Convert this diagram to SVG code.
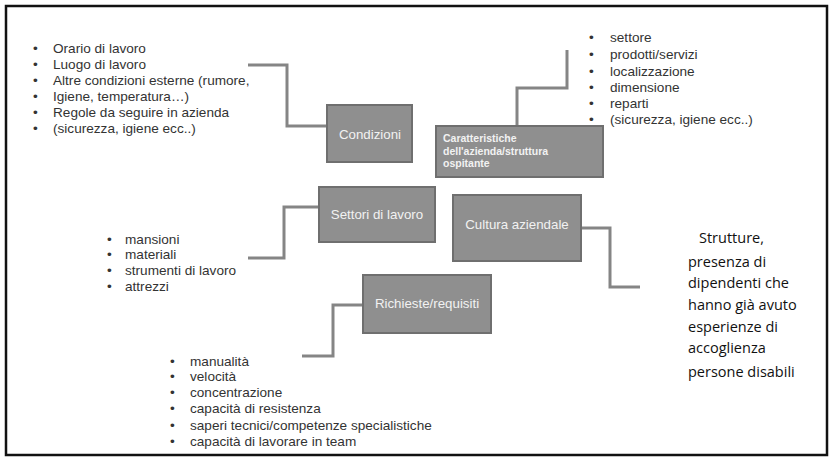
<svg xmlns="http://www.w3.org/2000/svg" width="830" height="457" viewBox="0 0 830 457">
<style>
.box{fill:#8f8f8f;stroke:#6f6f6f;stroke-width:2}
.bt{font-family:"Liberation Sans",Arial,sans-serif;font-size:13.3px;fill:#f2f2f2;text-anchor:middle}
.st{font-family:"Liberation Sans",Arial,sans-serif;font-size:10.5px;fill:#f2f2f2;font-weight:bold}
.li{font-family:"Liberation Sans",Arial,sans-serif;font-size:13.6px;fill:#333}
.rt{font-family:"Open Sans","Liberation Sans",sans-serif;font-size:14.5px;fill:#111}
.con{fill:none;stroke:#858585;stroke-width:3}
</style>
<rect x="0" y="0" width="830" height="457" fill="#fff"/>
<rect x="6" y="6" width="821" height="449" fill="none" stroke="#111" stroke-width="2.5"/>
<g id="connectors">
<polyline class="con" points="248,65 287,65 287,126 326,126"/>
<polyline class="con" points="517,126 517,88 567,88 567,50"/>
<polyline class="con" points="248,258 284,258 284,207 319,207"/>
<polyline class="con" points="581,228 610,228 610,287 640,287"/>
<polyline class="con" points="363,305 333,305 333,356 302,356"/>
</g>
<g id="condizioni">
<rect class="box" x="327" y="105" width="85" height="57"/>
<text class="bt" x="370" y="139">Condizioni</text>
</g>
<g id="caratteristiche">
<rect class="box" x="436" y="126" width="167" height="51"/>
<text class="st" x="443" y="142">Caratteristiche</text>
<text class="st" x="443" y="155">dell'azienda/struttura</text>
<text class="st" x="443" y="167">ospitante</text>
</g>
<g id="settori">
<rect class="box" x="319" y="187" width="116" height="55"/>
<text class="bt" x="377" y="219">Settori di lavoro</text>
</g>
<g id="cultura">
<rect class="box" x="453" y="195" width="128" height="66"/>
<text class="bt" x="517" y="229">Cultura aziendale</text>
</g>
<g id="richieste">
<rect class="box" x="363" y="275" width="128" height="58"/>
<text class="bt" x="427" y="308">Richieste/requisiti</text>
</g>
<g id="list-condizioni" class="li">
<text x="33" y="53">•</text><text x="53" y="53">Orario di lavoro</text>
<text x="33" y="69">•</text><text x="53" y="69">Luogo di lavoro</text>
<text x="33" y="85">•</text><text x="53" y="85">Altre condizioni esterne (rumore,</text>
<text x="33" y="101">•</text><text x="53" y="101">Igiene, temperatura…)</text>
<text x="33" y="117">•</text><text x="53" y="117">Regole da seguire in azienda</text>
<text x="33" y="133">•</text><text x="53" y="133">(sicurezza, igiene ecc..)</text>
</g>
<g id="list-caratteristiche" class="li">
<text x="589" y="42">•</text><text x="610" y="42">settore</text>
<text x="589" y="59">•</text><text x="610" y="59">prodotti/servizi</text>
<text x="589" y="76">•</text><text x="610" y="76">localizzazione</text>
<text x="589" y="92">•</text><text x="610" y="92">dimensione</text>
<text x="589" y="108">•</text><text x="610" y="108">reparti</text>
<text x="589" y="124">•</text><text x="610" y="124">(sicurezza, igiene ecc..)</text>
</g>
<g id="list-settori" class="li">
<text x="107" y="244">•</text><text x="125" y="244">mansioni</text>
<text x="107" y="259">•</text><text x="125" y="259">materiali</text>
<text x="107" y="275">•</text><text x="125" y="275">strumenti di lavoro</text>
<text x="107" y="291">•</text><text x="125" y="291">attrezzi</text>
</g>
<g id="list-richieste" class="li">
<text x="170" y="366">•</text><text x="190" y="366">manualità</text>
<text x="170" y="381">•</text><text x="190" y="381">velocità</text>
<text x="170" y="397">•</text><text x="190" y="397">concentrazione</text>
<text x="170" y="413">•</text><text x="190" y="413">capacità di resistenza</text>
<text x="170" y="430">•</text><text x="190" y="430">saperi tecnici/competenze specialistiche</text>
<text x="170" y="446">•</text><text x="190" y="446">capacità di lavorare in team</text>
</g>
<g id="cultura-text" class="rt">
<text x="699" y="243">Strutture,</text>
<text x="688" y="267">presenza di</text>
<text x="688" y="288">dipendenti che</text>
<text x="688" y="310">hanno già avuto</text>
<text x="688" y="332">esperienze di</text>
<text x="688" y="353">accoglienza</text>
<text x="688" y="377">persone disabili</text>
</g>
</svg>
